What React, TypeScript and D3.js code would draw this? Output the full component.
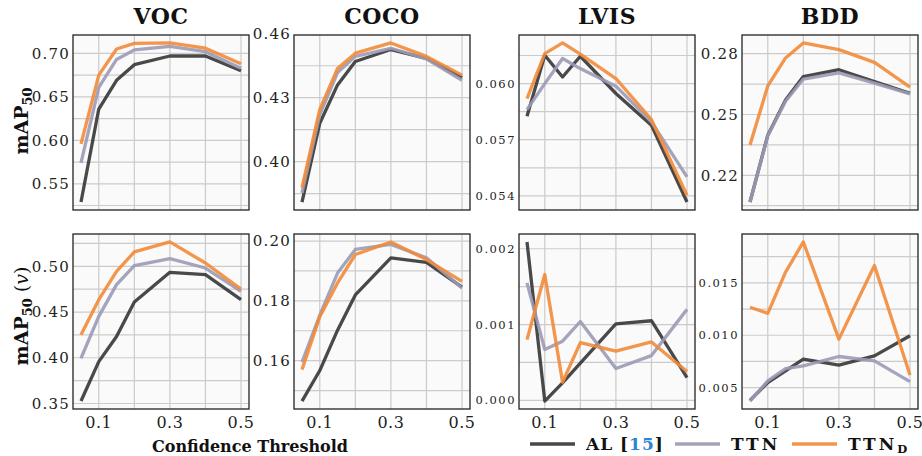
import React, { useRef, useEffect } from 'react';
import * as d3 from 'd3';

const thresholds = [0.05, 0.1, 0.15, 0.2, 0.3, 0.4, 0.5];
const xTickLabels = [0.1, 0.3, 0.5];
const xGridValues = [0.1, 0.2, 0.3, 0.4, 0.5];
const datasets = ['VOC', 'COCO', 'LVIS', 'BDD'];
const seriesNames = ['AL', 'TTN', 'TTN_D'];
const seriesColors = ['#353535', '#9a9ab6', '#f28a37'];

// top row: mAP50
const vocAL = [0.529, 0.636, 0.669, 0.687, 0.697, 0.697, 0.68];
const vocTTN = [0.574, 0.661, 0.693, 0.704, 0.708, 0.702, 0.683];
const vocTTND = [0.596, 0.675, 0.705, 0.7115, 0.712, 0.706, 0.688];
const cocoAL = [0.381, 0.418, 0.436, 0.447, 0.4526, 0.4485, 0.4395];
const cocoTTN = [0.3853, 0.4221, 0.4418, 0.4494, 0.4532, 0.4482, 0.4382];
const cocoTTND = [0.3878, 0.4245, 0.4437, 0.4509, 0.4557, 0.4494, 0.4406];
const lvisAL = [0.05825, 0.06151, 0.06035, 0.06146, 0.05947, 0.05777, 0.05367];
const lvisTTN = [0.05861, 0.06, 0.06134, 0.0608, 0.05986, 0.05795, 0.05501];
const lvisTTND = [0.0592, 0.0616, 0.06217, 0.06157, 0.06027, 0.05807, 0.05403];
const bddAL = [0.2068, 0.2398, 0.2572, 0.2687, 0.2721, 0.2663, 0.2605];
const bddTTN = [0.2068, 0.2395, 0.2565, 0.2675, 0.2705, 0.2655, 0.2602];
const bddTTND = [0.2349, 0.2641, 0.2779, 0.2853, 0.282, 0.2757, 0.2635];

// bottom row: mAP50 (v)
const vocVAL = [0.3527, 0.3958, 0.4232, 0.4609, 0.4934, 0.4909, 0.4635];
const vocVTTN = [0.3995, 0.4452, 0.4799, 0.5007, 0.5084, 0.4981, 0.4726];
const vocVTTND = [0.4251, 0.4635, 0.4945, 0.5157, 0.5266, 0.5036, 0.4751];
const cocoVAL = [0.1465, 0.1567, 0.1702, 0.182, 0.1944, 0.1929, 0.1846];
const cocoVTTN = [0.1595, 0.1752, 0.1893, 0.1972, 0.1989, 0.1944, 0.1843];
const cocoVTTND = [0.157, 0.1747, 0.186, 0.1955, 0.1997, 0.1938, 0.1865];
const lvisVAL = [0.00209, -0.00001, 0.00023, 0.00049, 0.00101, 0.00105, 0.0003];
const lvisVTTN = [0.00155, 0.00067, 0.00078, 0.00104, 0.00042, 0.00059, 0.0012];
const lvisVTTND = [0.0008, 0.00166, 0.00024, 0.00076, 0.00065, 0.00077, 0.00038];
const bddVAL = [0.00379, 0.00548, 0.0066, 0.00771, 0.00714, 0.00803, 0.00995];
const bddVTTN = [0.00372, 0.00564, 0.00682, 0.00708, 0.00797, 0.00756, 0.00558];
const bddVTTND = [0.01267, 0.01209, 0.01602, 0.0189, 0.00963, 0.01666, 0.00621];

// y tick labels per panel
const vocTicks = [0.55, 0.6, 0.65, 0.7];
const cocoTicks = [0.4, 0.43, 0.46];
const lvisTicks = [0.054, 0.057, 0.06];
const bddTicks = [0.22, 0.25, 0.28];
const vocVTicks = [0.35, 0.4, 0.45, 0.5];
const cocoVTicks = [0.16, 0.18, 0.2];
const lvisVTicks = [0, 0.001, 0.002];
const bddVTicks = [0.005, 0.01, 0.015];

const panels = [
  { row: 0, col: 0, series: [vocAL, vocTTN, vocTTND], ticks: vocTicks, fmt: '.2f' },
  { row: 0, col: 1, series: [cocoAL, cocoTTN, cocoTTND], ticks: cocoTicks, fmt: '.2f' },
  { row: 0, col: 2, series: [lvisAL, lvisTTN, lvisTTND], ticks: lvisTicks, fmt: '.3f' },
  { row: 0, col: 3, series: [bddAL, bddTTN, bddTTND], ticks: bddTicks, fmt: '.2f' },
  { row: 1, col: 0, series: [vocVAL, vocVTTN, vocVTTND], ticks: vocVTicks, fmt: '.2f' },
  { row: 1, col: 1, series: [cocoVAL, cocoVTTN, cocoVTTND], ticks: cocoVTicks, fmt: '.2f' },
  { row: 1, col: 2, series: [lvisVAL, lvisVTTN, lvisVTTND], ticks: lvisVTicks, fmt: '.3f' },
  { row: 1, col: 3, series: [bddVAL, bddVTTN, bddVTTND], ticks: bddVTicks, fmt: '.3f' },
];

const App = () => {
  const svgRef = useRef<SVGSVGElement>(null);

  useEffect(() => {
    const svg = d3.select(svgRef.current);
    svg.selectAll('*').remove();

    const serif = 'DejaVu Serif';
    const colLefts = [73, 294, 519, 742];
    const rowTops = [35, 234];
    const panelW = 176;
    const panelH = 175;

    // matplotlib-like 5% margins
    const [tMin, tMax] = d3.extent(thresholds) as [number, number];
    const tPad = (tMax - tMin) * 0.05;

    panels.forEach(p => {
      const x0 = colLefts[p.col];
      const y0 = rowTops[p.row];
      const all = p.series.flat();
      const [lo, hi] = d3.extent(all) as [number, number];
      const pad = (hi - lo) * 0.05;

      const x = d3.scaleLinear().domain([tMin - tPad, tMax + tPad]).range([x0, x0 + panelW]);
      const y = d3.scaleLinear().domain([lo - pad, hi + pad]).range([y0 + panelH, y0]);

      const g = svg.append('g');
      g.append('rect')
        .attr('x', x0).attr('y', y0)
        .attr('width', panelW).attr('height', panelH)
        .attr('fill', '#fafafa');

      // grid: every labelled tick plus the halfway lines
      const half = (p.ticks[1] - p.ticks[0]) / 2;
      const [d0, d1] = y.domain();
      const yGrid = d3.range(-6, p.ticks.length * 2 + 6)
        .map(k => p.ticks[0] + k * half)
        .filter(v => v > d0 && v < d1);

      g.selectAll('.hgrid').data(yGrid).enter().append('line')
        .attr('x1', x0).attr('x2', x0 + panelW)
        .attr('y1', d => y(d)).attr('y2', d => y(d))
        .attr('stroke', '#cbcbcb').attr('stroke-width', 1.2);

      g.selectAll('.vgrid').data(xGridValues).enter().append('line')
        .attr('x1', d => x(d)).attr('x2', d => x(d))
        .attr('y1', y0).attr('y2', y0 + panelH)
        .attr('stroke', '#cbcbcb').attr('stroke-width', 1.2);

      const line = d3.line<number>()
        .x((_, i) => x(thresholds[i]))
        .y(d => y(d));

      p.series.forEach((s, i) => {
        g.append('path')
          .attr('d', line(s))
          .attr('fill', 'none')
          .attr('stroke', seriesColors[i])
          .attr('stroke-width', 3.3)
          .attr('stroke-linejoin', 'round')
          .attr('opacity', 0.9);
      });

      g.append('rect')
        .attr('x', x0).attr('y', y0)
        .attr('width', panelW).attr('height', panelH)
        .attr('fill', 'none')
        .attr('stroke', '#222').attr('stroke-width', 1.3);

      const small = p.fmt === '.3f';
      g.selectAll('.ylab').data(p.ticks).enter().append('text')
        .attr('x', x0 - 3)
        .attr('y', d => y(d))
        .attr('dy', '0.36em')
        .attr('text-anchor', 'end')
        .attr('font-family', serif)
        .attr('font-size', small ? 11.5 : 15)
        .attr('letter-spacing', small ? 1.5 : 1.2)
        .attr('fill', '#222')
        .text(d => d3.format(p.fmt)(d));

      if (p.row === 0) {
        g.append('text')
          .attr('x', x0 + panelW / 2)
          .attr('y', 23.5)
          .attr('text-anchor', 'middle')
          .attr('font-family', serif)
          .attr('font-weight', 'bold')
          .attr('font-size', 22)
          .attr('letter-spacing', 0.5)
          .attr('fill', '#111')
          .text(datasets[p.col]);
      } else {
        g.selectAll('.xlab').data(xTickLabels).enter().append('text')
          .attr('x', d => x(d))
          .attr('y', 428)
          .attr('text-anchor', 'middle')
          .attr('font-family', serif)
          .attr('font-size', 16)
          .attr('letter-spacing', 0.5)
          .attr('fill', '#222')
          .text(d => d3.format('.1f')(d));
      }
    });

    // y axis titles
    const yTitle = (cy: number, withV: boolean) => {
      const t = svg.append('text')
        .attr('transform', `translate(28, ${cy}) rotate(-90)`)
        .attr('text-anchor', 'middle')
        .attr('font-family', serif)
        .attr('font-size', 19)
        .attr('fill', '#111');
      t.append('tspan').attr('font-weight', 'bold').text('mAP');
      t.append('tspan').attr('font-weight', 'bold').attr('font-size', 13).attr('dy', 4).text('50');
      if (withV) {
        t.append('tspan').attr('dy', -4).text(' (');
        t.append('tspan').attr('font-style', 'italic').text('v');
        t.append('tspan').text(')');
      }
    };
    yTitle(121, false);
    yTitle(316, true);

    svg.append('text')
      .attr('x', 250)
      .attr('y', 452)
      .attr('text-anchor', 'middle')
      .attr('font-family', serif)
      .attr('font-weight', 'bold')
      .attr('font-size', 16)
      .attr('textLength', 196)
      .attr('lengthAdjust', 'spacingAndGlyphs')
      .attr('fill', '#111')
      .text('Confidence Threshold');

    // legend
    const legendY = 444;
    const legendX = [530, 675, 792];
    seriesNames.forEach((name, i) => {
      svg.append('line')
        .attr('x1', legendX[i]).attr('x2', legendX[i] + 45)
        .attr('y1', legendY).attr('y2', legendY)
        .attr('stroke', seriesColors[i]).attr('stroke-width', 3.5)
        .attr('opacity', 0.9);
      const t = svg.append('text')
        .attr('x', legendX[i] + 56)
        .attr('y', legendY + 6)
        .attr('font-family', serif)
        .attr('font-weight', 'bold')
        .attr('font-size', 17)
        .attr('letter-spacing', 1)
        .attr('fill', '#111');
      if (name === 'AL') {
        t.append('tspan').text('AL [');
        t.append('tspan').attr('fill', '#2f83d6').text('15');
        t.append('tspan').text(']');
      } else if (name === 'TTN_D') {
        t.append('tspan').attr('letter-spacing', 3).text('TTN');
        t.append('tspan').attr('font-size', 11.5).attr('dy', 3).text('D');
      } else {
        t.append('tspan').attr('letter-spacing', 3).text(name);
      }
    });
  }, []);

  return (
    <svg
      ref={svgRef}
      width={922}
      height={456}
      style={{ position: 'absolute', left: 0, top: 0, background: '#fff' }}
    />
  );
};

export default App;
